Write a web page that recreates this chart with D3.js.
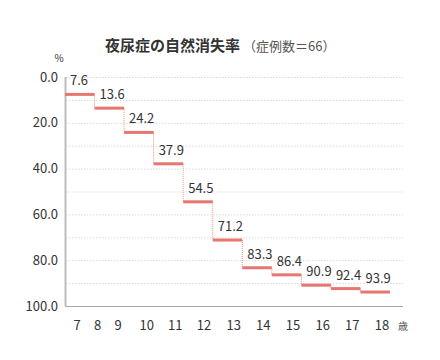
<!DOCTYPE html>
<html><head><meta charset="utf-8">
<script src="https://cdn.jsdelivr.net/npm/d3@7"></script>
<style>body{margin:0;background:#fff;}svg{display:block;font-family:"Noto Sans CJK JP","Noto Sans",sans-serif;}</style>
</head><body>
<svg id="c" width="440" height="360"></svg>
<script>
const ages = [7,8,9,10,11,12,13,14,15,16,17,18];
const stepAges = [7,8,9,10,11,12,13,14,15,16,17];
const rates = [7.6,13.6,24.2,37.9,54.5,71.2,83.3,86.4,90.9,92.4,93.9];
const yTicks = [0,20,40,60,80,100];
const gridTicks = [0,10,20,30,40,50,60,70,80,90,100];
const titleMain = "夜尿症の自然消失率";
const titleSub = "（症例数＝66）";
const unitY = "%";
const unitX = "歳";

const svg = d3.select("#c");
const y = d3.scaleLinear().domain([0,100]).range([77,306]);
const xs = d3.scaleLinear().domain([7,18]).range([65,390]);
const xl = d3.scaleLinear().domain([7,9,12,18]).range([77,118,204,382]);
const xRight = 403;

// grid
svg.append("g").selectAll("line").data(gridTicks).join("line")
  .attr("x1",66).attr("x2",xRight).attr("y1",d=>y(d)+0.5).attr("y2",d=>y(d)+0.5)
  .attr("stroke","#d9d9d9").attr("stroke-width",1).attr("stroke-dasharray","1.5,1.5");

// y axis line
svg.append("line").attr("x1",65.5).attr("x2",65.5).attr("y1",y(0)).attr("y2",y(100))
  .attr("stroke","#bdbdbd").attr("stroke-width",2);
// x axis line
svg.append("line").attr("x1",65).attr("x2",xRight).attr("y1",y(100)+0.5).attr("y2",y(100)+0.5)
  .attr("stroke","#a8a8a8").attr("stroke-width",1);

// y labels
svg.append("g").selectAll("text").data(yTicks).join("text")
  .attr("x",58).attr("y",d=>y(d)+4.5).attr("text-anchor","end")
  .attr("font-size",13).attr("fill","#333").text(d=>d3.format(".1f")(d));
svg.append("text").attr("x",59).attr("y",62).attr("text-anchor","middle")
  .attr("font-size",10).attr("fill","#333").text(unitY);

// x labels
svg.append("g").selectAll("text").data(ages).join("text")
  .attr("x",d=>xl(d)).attr("y",330).attr("text-anchor","middle")
  .attr("font-size",13).attr("fill","#333").text(d=>d);
svg.append("text").attr("x",xRight).attr("y",329.5).attr("text-anchor","middle")
  .attr("font-size",10).attr("fill","#555").text(unitX);

// vertical dotted connectors
const conn = d3.range(1,rates.length).map(i=>({a:stepAges[i],v0:rates[i-1],v1:rates[i]}));
svg.append("g").selectAll("line").data(conn).join("line")
  .attr("x1",d=>xs(d.a)).attr("x2",d=>xs(d.a)).attr("y1",d=>y(d.v0)).attr("y2",d=>y(d.v1))
  .attr("stroke","#eb8f8a").attr("stroke-width",1).attr("stroke-dasharray","1,1");

// horizontal segments
svg.append("g").selectAll("line").data(rates).join("line")
  .attr("x1",(d,i)=>xs(stepAges[i])).attr("x2",(d,i)=>xs(stepAges[i]+1))
  .attr("y1",d=>y(d)).attr("y2",d=>y(d))
  .attr("stroke","#e6766f").attr("stroke-width",3);

// value labels
svg.append("g").selectAll("text").data(rates).join("text")
  .attr("x",(d,i)=>xs(stepAges[i])+5).attr("y",d=>y(d)-9)
  .attr("font-size",13).attr("fill","#333").text(d=>d3.format(".1f")(d));

// title
const t = svg.append("text").attr("x",105).attr("y",51);
t.append("tspan").attr("font-size",15).attr("font-weight",700).attr("fill","#333").text(titleMain);
t.append("tspan").attr("dx",3).attr("font-size",13).attr("fill","#555").text(titleSub);
</script>
</body></html>
